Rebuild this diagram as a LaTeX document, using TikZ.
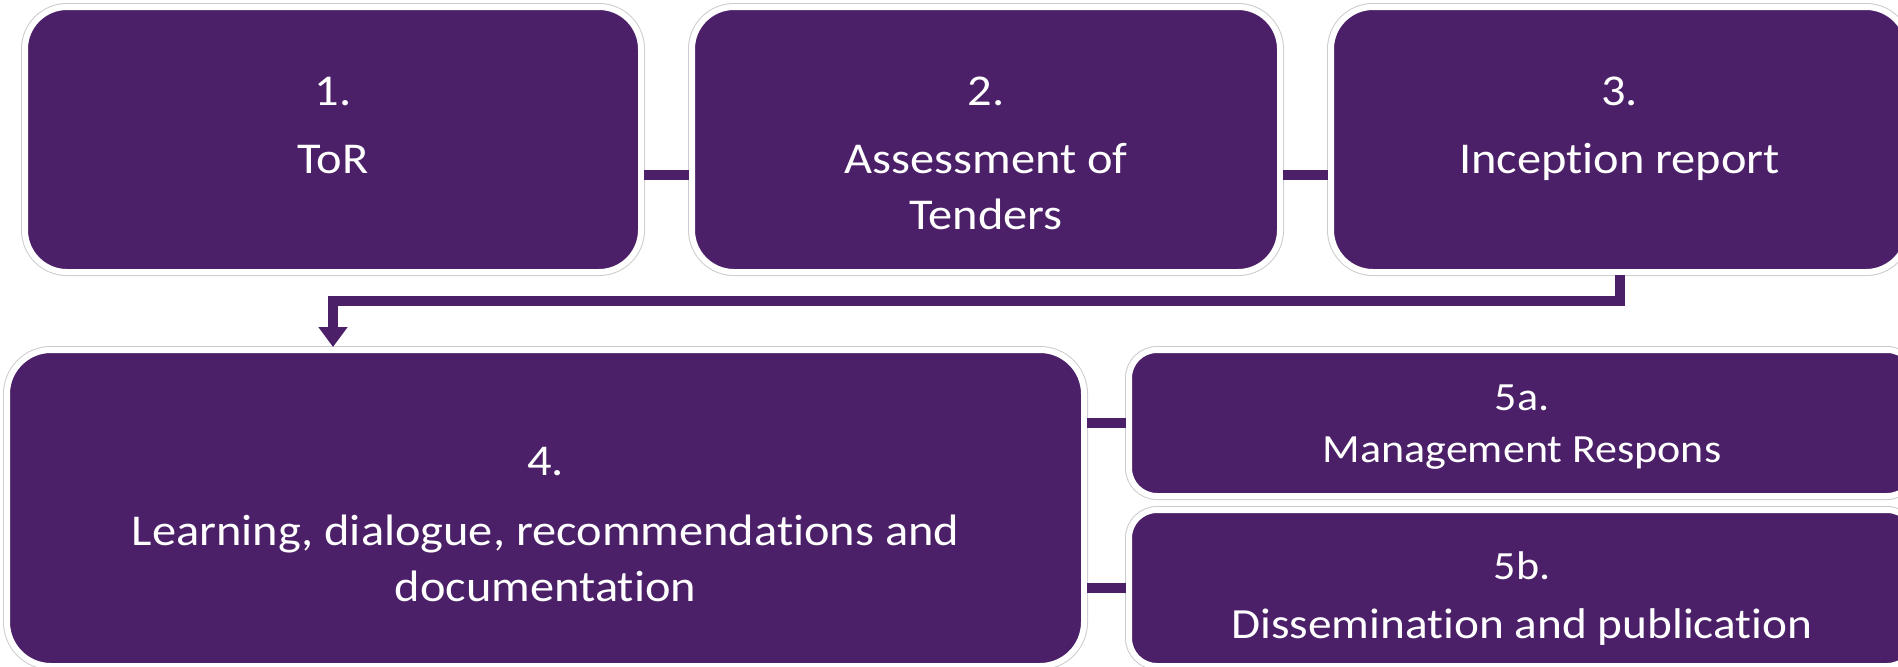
\documentclass[tikz,border=0pt]{standalone}
\usepackage{fontspec}
\setmainfont{Carlito}[FakeStretch=1.1,Ligatures=NoCommon]
\usepackage{tikz}
\usetikzlibrary{positioning}
\usetikzlibrary{arrows.meta}
\definecolor{mypurple}{RGB}{75, 32, 104}

\begin{document}
\begin{tikzpicture}[x=0.5pt,y=-0.5pt,node distance=22.5pt,thick]
    % cajas y textos
    \tikzstyle{stagebox}=[rectangle,rounded corners=21pt,fill=mypurple,draw=white,line width=3pt,
        preaction={draw=black!20,line width=4pt},inner sep=0pt]
    \tikzstyle{smallbox}=[stagebox,rounded corners=14pt]
    \tikzstyle{stagetext}=[text=white,align=center,inner sep=0pt,outer sep=0pt,font=\fontsize{22}{28}\selectfont]
    \tikzstyle{link}=[draw=mypurple,line width=5pt]
    \useasboundingbox (0,0) rectangle (1898,666);

    \node[stagebox,minimum width=308pt,minimum height=132.5pt] (b1) at (333,139.5) {};
    \node[stagebox,minimum width=294pt,minimum height=132.5pt] (b2) [right=of b1] {};
    \node[stagebox,minimum width=288.5pt,minimum height=132.5pt] (b3) [right=of b2] {};
    \node[stagebox,rounded corners=22pt,minimum width=538.5pt,minimum height=158pt] (b4) at (545.5,508) {};
    \node[smallbox,minimum width=393pt,minimum height=73pt] (b5a) at (1522,423) {};
    \node[smallbox,minimum width=393pt,minimum height=78pt] (b5b) at (1522,588) {};

    \node[stagetext] (t1) [below=36.5pt of b1.north] {1.\\[6pt]ToR};
    \node[stagetext] (t2) [below=36.5pt of b2.north] {2.\\[6pt]Assessment of\\Tenders};
    \node[stagetext] (t3) [below=36.5pt of b3.north] {3.\\[6pt]Inception report};
    \node[stagetext] (t4) [below=50pt of b4.north] {4.\\[7pt]Learning, dialogue, recommendations and\\documentation};
    \node[stagetext,font=\fontsize{20}{24}\selectfont] (t5a) [below=19pt of b5a.north] {5a.\\[2pt]Management Respons};
    \node[stagetext,font=\fontsize{21.5}{26}\selectfont] (t5b) [below=22.5pt of b5b.north]
        {{\fontsize{20}{24}\selectfont 5b.}\\[3.5pt]Dissemination and publication};

    \path[link] 
    ([yshift=-17.75pt]b1.east) edge ([yshift=-17.75pt]b2.west)
    ([yshift=-17.75pt]b2.east) edge ([yshift=-17.75pt]b3.west)
    (b4.east |- b5a.west) edge (b5a.west)
    (b4.east |- b5b.west) edge (b5b.west);
    \draw[link,-{Triangle[width=14pt,length=10pt]}] (b3.south) -- ++(0,26) -| (b1.south |- b4.north);

\end{tikzpicture}
\end{document}
